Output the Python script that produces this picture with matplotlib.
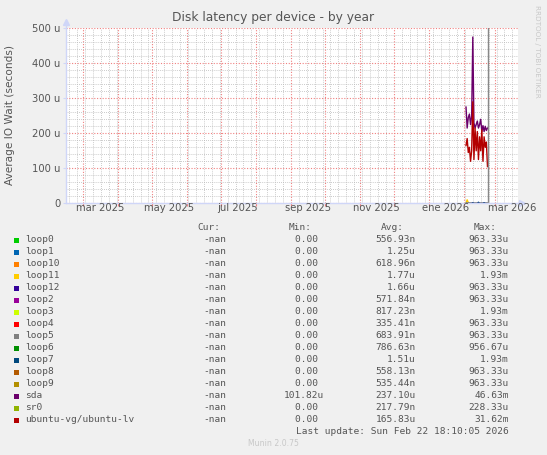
import datetime as dt

import matplotlib
matplotlib.use("Agg")
import matplotlib.dates as mdates
import matplotlib.pyplot as plt
from matplotlib.patches import Rectangle
from matplotlib.ticker import FixedLocator, MultipleLocator

W, H = 547, 455

# daily averages, Feb 3 .. Feb 22 2026 (seconds * 1e6)
days = [dt.datetime(2026, 2, d) for d in range(3, 23)]
sda = [275, 215, 245, 255, 225, 250, 475, 230, 215, 225,
       235, 215, 225, 240, 205, 222, 205, 220, 208, 215]
ubuntu_lv = [165, 185, 145, 160, 120, 150, 290, 125, 215, 150,
             205, 125, 190, 150, 210, 120, 190, 160, 175, 105]
loop11 = [0, 10, 2, 0, 0, 0, 0, 0, 0, 0,
          0, 0, 0, 0, 0, 0, 0, 0, 0, 0]
loop12 = [1.5, 1.5, 1.5, 1.5, 1.5, 1.5, 1.5, 1.5, 1.5, 1.5,
          1.5, 1.5, 1.5, 1.5, 1.5, 1.5, 1.5, 1.5, 1.5, 1.5]
loop7 = [0, 0, 0, 0, 0, 0, 2, 0, 0, 0, 0, 3, 0, 0, 0, 0, 2, 0, 0, 0]

start = dt.datetime(2025, 2, 14)
end = dt.datetime(2026, 3, 21)
now = dt.datetime(2026, 2, 22, 18, 10)

label_dates = [dt.datetime(2025, 3, 16), dt.datetime(2025, 5, 16), dt.datetime(2025, 7, 16),
               dt.datetime(2025, 9, 16), dt.datetime(2025, 11, 16), dt.datetime(2026, 1, 16),
               dt.datetime(2026, 3, 16)]
label_texts = ["mar 2025", "may 2025", "jul 2025", "sep 2025", "nov 2025", "ene 2026", "mar 2026"]

y_ticks = [0, 100, 200, 300, 400, 500]
y_labels = ["0", "100 u", "200 u", "300 u", "400 u", "500 u"]

names = ["loop0", "loop1", "loop10", "loop11", "loop12", "loop2", "loop3", "loop4",
         "loop5", "loop6", "loop7", "loop8", "loop9", "sda", "sr0", "ubuntu-vg/ubuntu-lv"]
colors = ["#00CC00", "#0066B3", "#FF8000", "#FFCC00", "#330099", "#990099", "#CCFF00", "#FF0000",
          "#808080", "#008F00", "#00487D", "#B35A00", "#B38F00", "#6B006B", "#8FB300", "#B30000"]
cur = ["-nan"] * 16
mins = ["0.00 "] * 13 + ["101.82u", "0.00 ", "0.00 "]
avgs = ["556.93n", "1.25u", "618.96n", "1.77u", "1.66u", "571.84n", "817.23n", "335.41n",
        "683.91n", "786.63n", "1.51u", "558.13n", "535.44n", "237.10u", "217.79n", "165.83u"]
maxs = ["963.33u", "963.33u", "963.33u", "1.93m", "963.33u", "963.33u", "1.93m", "963.33u",
        "963.33u", "956.67u", "1.93m", "963.33u", "963.33u", "46.63m", "228.33u", "31.62m"]

BACK = "#F0F0F0"
FONT = "#555555"
AXIS = "#CFD6F8"

fig = plt.figure(figsize=(W / 100, H / 100), dpi=100, facecolor=BACK)


def px(x, y):
    return x / W, 1 - y / H


left, right, top, bottom = 66, 518, 28.3, 203.3
ax = fig.add_axes([left / W, 1 - bottom / H, (right - left) / W, (bottom - top) / H])
ax.set_facecolor("white")

ax.set_xlim(start, end)
ax.set_ylim(0, 500)

# grid
ax.xaxis.set_major_locator(mdates.MonthLocator())
ax.xaxis.set_minor_locator(mdates.WeekdayLocator(byweekday=mdates.MO))
ax.yaxis.set_major_locator(FixedLocator(y_ticks))
ax.yaxis.set_minor_locator(MultipleLocator(20))
ax.grid(which="minor", color="#BABABA", linestyle=(0, (1, 1.5)), linewidth=0.6)
ax.grid(which="major", color="#F08080", linestyle=(0, (1, 1.5)), linewidth=0.8)
ax.set_axisbelow(True)

ax.set_yticklabels(y_labels)
ax.set_xticklabels([])
ax.tick_params(axis="both", which="major", length=2, width=0.8, colors=AXIS,
               labelcolor=FONT, labelsize=7.2, pad=2)
ax.tick_params(axis="x", which="major", colors="#F08080")
ax.tick_params(which="minor", length=0)

for d, t in zip(label_dates, label_texts):
    ax.text(d, -14, t, ha="center", va="center", fontsize=7.2, color=FONT, clip_on=False)

for s in ["top", "right"]:
    ax.spines[s].set_visible(False)
for s in ["left", "bottom"]:
    ax.spines[s].set_color(AXIS)
    ax.spines[s].set_linewidth(1)
ax.spines["left"].set_bounds(0, 500)

# axis arrows
ax.plot([0, 0], [1, 1.03], transform=ax.transAxes, color=AXIS, lw=1, clip_on=False)
ax.plot([1, 1.006], [0, 0], transform=ax.transAxes, color=AXIS, lw=1, clip_on=False)
ax.plot(0, 1.035, marker="^", markersize=4, color=AXIS, transform=ax.transAxes, clip_on=False)
ax.plot(1.008, 0, marker=">", markersize=4, color=AXIS, transform=ax.transAxes, clip_on=False)

# data
ax.plot(days, loop11, color=colors[3], lw=1)
ax.plot(days, loop7, color=colors[10], lw=1)
ax.plot(days, loop12, color=colors[4], lw=1)
ax.plot(days, sda, color=colors[13], lw=1)
ax.plot(days, ubuntu_lv, color=colors[15], lw=1)
ax.axvline(now, color="#888888", lw=1)

# texts
fig.text(*px(273.5, 18), "Disk latency per device - by year", ha="center", va="center",
         fontsize=8.8, color=FONT)
fig.text(*px(10, 115), "Average IO Wait (seconds)", ha="center", va="center",
         rotation=90, fontsize=7.6, color=FONT)
fig.text(*px(537, 5), "RRDTOOL / TOBI OETIKER", ha="center", va="top", rotation=270,
         fontsize=5.2, color="#C8C8C8")

mono = dict(family="DejaVu Sans Mono", fontsize=6.8, color=FONT, va="center")
fig.text(*px(220, 227.3), "Cur:", ha="right", **mono)
fig.text(*px(312, 227.3), "Min:", ha="right", **mono)
fig.text(*px(404, 227.3), "Avg:", ha="right", **mono)
fig.text(*px(497, 227.3), "Max:", ha="right", **mono)

for i, name in enumerate(names):
    y = 240 + i * 12
    fig.patches.append(Rectangle(px(13.5, y + 2.5), 5 / W, 5 / H, transform=fig.transFigure,
                                 facecolor=colors[i], edgecolor="none"))
    fig.text(*px(25, y), name, ha="left", **mono)
    fig.text(*px(226, y), cur[i], ha="right", **mono)
    fig.text(*px(324, y), mins[i], ha="right", **mono)
    fig.text(*px(416, y), avgs[i], ha="right", **mono)
    fig.text(*px(509, y), maxs[i], ha="right", **mono)

fig.text(*px(509, 431.7), "Last update: Sun Feb 22 18:10:05 2026", ha="right", **mono)
fig.text(*px(273.5, 444), "Munin 2.0.75", ha="center", va="center", fontsize=5.6, color="#C8C8C8")

fig.savefig("out.png", dpi=100, facecolor=BACK)
